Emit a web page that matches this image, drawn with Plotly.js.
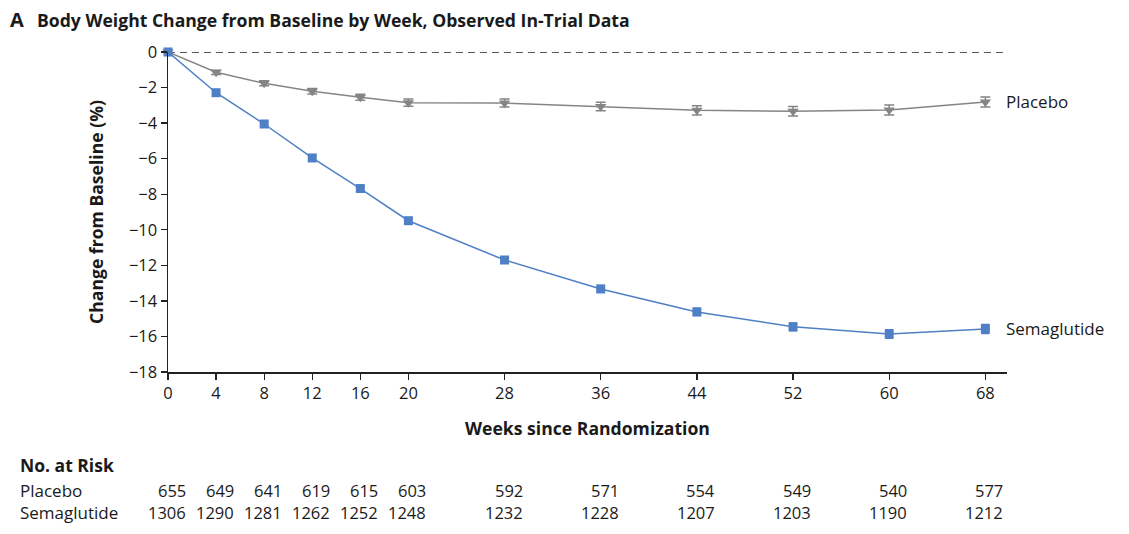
<!DOCTYPE html>
<html>
<head>
<meta charset="utf-8">
<script src="https://cdn.plot.ly/plotly-3.0.1.min.js"></script>
<style>html,body{margin:0;padding:0;background:#fff;}#chart{width:1129px;height:534px;}</style>
</head>
<body>
<div id="chart"></div>
<script>
var weeks = [0, 4, 8, 12, 16, 20, 28, 36, 44, 52, 60, 68];
var placeboChange = [0, -1.14, -1.76, -2.21, -2.55, -2.85, -2.87, -3.07, -3.28, -3.33, -3.26, -2.81];
var placeboErr = [0, 0.12, 0.14, 0.15, 0.17, 0.2, 0.22, 0.24, 0.26, 0.27, 0.28, 0.28];
var semaChange = [0, -2.29, -4.05, -5.96, -7.68, -9.49, -11.7, -13.33, -14.62, -15.46, -15.86, -15.58];
var semaErr = [0, 0.08, 0.1, 0.12, 0.13, 0.15, 0.17, 0.19, 0.2, 0.22, 0.24, 0.25];
var placeboAtRisk = [655, 649, 641, 619, 615, 603, 592, 571, 554, 549, 540, 577];
var semaAtRisk = [1306, 1290, 1281, 1262, 1252, 1248, 1232, 1228, 1207, 1203, 1190, 1212];
var xTickVals = [0, 4, 8, 12, 16, 20, 28, 36, 44, 52, 60, 68];
var yTickVals = [0, -2, -4, -6, -8, -10, -12, -14, -16, -18];

var FONT = 'Open Sans, sans-serif';
var grayC = '#858585';
var blueC = '#4f7fc4';
var TXT = '#1a1a1a';

var traces = [
  {
    x: weeks, y: placeboChange, type: 'scatter', mode: 'lines+markers', cliponaxis: false,
    line: {color: grayC, width: 1.5},
    marker: {symbol: 'triangle-down', size: 10, color: grayC},
    error_y: {type: 'data', array: placeboErr, visible: true, color: grayC, thickness: 1.5, width: 5},
    hoverinfo: 'skip'
  },
  {
    x: weeks, y: semaChange, type: 'scatter', mode: 'lines+markers', cliponaxis: false,
    line: {color: blueC, width: 1.5},
    marker: {symbol: 'square', size: 9, color: blueC},
    error_y: {type: 'data', array: semaErr, visible: true, color: blueC, thickness: 1.5, width: 4},
    hoverinfo: 'skip'
  }
];

var annotations = [
  {text: '<b>A</b>', xref: 'paper', yref: 'paper', x: -160/839, y: 1 + 32/320, xanchor: 'left', yanchor: 'middle', showarrow: false, font: {family: FONT, size: 20, color: TXT}},
  {text: '<b>Body Weight Change from Baseline by Week, Observed In-Trial Data</b>', xref: 'paper', yref: 'paper', x: -133/839, y: 1 + 32/320, xanchor: 'left', yanchor: 'middle', showarrow: false, font: {family: FONT, size: 17.6, color: TXT}},
  {text: 'Placebo', xref: 'paper', yref: 'y', x: 1.0, xshift: -3, y: placeboChange[11], xanchor: 'left', yanchor: 'middle', showarrow: false, font: {family: FONT, size: 17, color: TXT}},
  {text: 'Semaglutide', xref: 'paper', yref: 'y', x: 1.0, xshift: -3, y: semaChange[11], xanchor: 'left', yanchor: 'middle', showarrow: false, font: {family: FONT, size: 17, color: TXT}},
  {text: '<b>No. at Risk</b>', xref: 'paper', yref: 'paper', x: -150/839, y: -93/320, xanchor: 'left', yanchor: 'middle', showarrow: false, font: {family: FONT, size: 17.5, color: TXT}},
  {text: 'Placebo', xref: 'paper', yref: 'paper', x: -150/839, y: -118/320, xanchor: 'left', yanchor: 'middle', showarrow: false, font: {family: FONT, size: 17, color: TXT}},
  {text: 'Semaglutide', xref: 'paper', yref: 'paper', x: -150/839, y: -140/320, xanchor: 'left', yanchor: 'middle', showarrow: false, font: {family: FONT, size: 17, color: TXT}}
];
for (var i = 0; i < weeks.length; i++) {
  annotations.push({text: String(placeboAtRisk[i]), xref: 'x', yref: 'paper', x: weeks[i], xshift: 20, y: -118/320, xanchor: 'right', yanchor: 'middle', showarrow: false, font: {family: FONT, size: 16.5, color: TXT}});
  annotations.push({text: String(semaAtRisk[i]), xref: 'x', yref: 'paper', x: weeks[i], xshift: 20, y: -140/320, xanchor: 'right', yanchor: 'middle', showarrow: false, font: {family: FONT, size: 16.5, color: TXT}});
}

var layout = {
  width: 1129, height: 534,
  margin: {l: 168, r: 122, t: 52, b: 162, pad: 0},
  paper_bgcolor: '#fff', plot_bgcolor: '#fff',
  showlegend: false,
  font: {family: FONT, size: 16, color: TXT},
  xaxis: {
    range: [0, 69.8], tickvals: xTickVals, ticktext: xTickVals.map(String),
    showgrid: false, zeroline: false, showline: true, linecolor: '#222', linewidth: 1.5,
    ticks: 'outside', ticklen: 6, tickwidth: 1.3, tickcolor: '#222',
    tickfont: {family: FONT, size: 16.5, color: TXT},
    title: {text: '<b>Weeks since Randomization</b>', font: {family: FONT, size: 17.6, color: TXT}, standoff: 19}
  },
  yaxis: {
    range: [-18, 0], tickvals: yTickVals,
    showgrid: false, zeroline: false, showline: true, linecolor: '#222', linewidth: 1.5,
    ticks: 'outside', ticklen: 6, tickwidth: 1.3, tickcolor: '#222',
    tickfont: {family: FONT, size: 16.5, color: TXT},
    title: {text: '<b>Change from Baseline (%)</b>', font: {family: FONT, size: 17.6, color: TXT}, standoff: 20}
  },
  shapes: [
    {type: 'line', xref: 'paper', yref: 'y', x0: 0, x1: 1, y0: 0, y1: 0, line: {color: '#222', width: 1.4, dash: '7px,5px'}, layer: 'below'}
  ],
  annotations: annotations
};

Plotly.newPlot('chart', traces, layout, {staticPlot: true, displayModeBar: false});
</script>
</body>
</html>
